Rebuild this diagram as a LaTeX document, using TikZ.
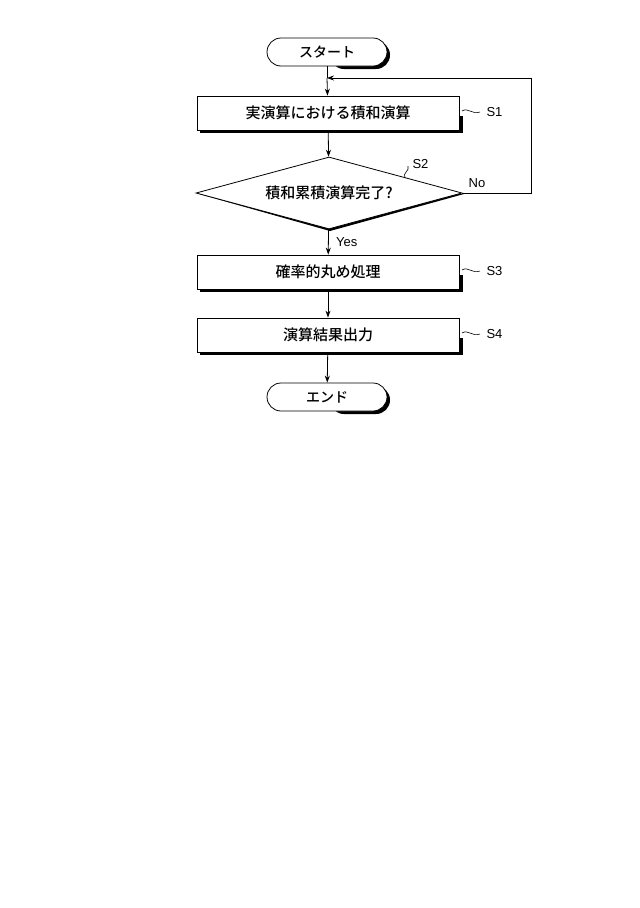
\documentclass[tikz,border=0pt]{standalone}
\usepackage{fontspec}
\setmainfont{Liberation Sans}
\newfontfamily\cjk{Noto Sans CJK JP Medium}
\usetikzlibrary{shapes.geometric,arrows.meta}
\begin{document}
\begin{tikzpicture}[x=1pt,y=-1pt,
 box/.style={draw,fill=white,line width=0.8pt,minimum width=262pt,minimum height=34pt,font=\cjk\fontsize{15}{15}\selectfont},
 term/.style={draw,fill=white,rounded corners=14pt,line width=0.8pt,minimum width=120pt,minimum height=28pt,font=\cjk\fontsize{14}{14}\selectfont},
 dia/.style={draw,fill=white,diamond,aspect=3.6,line width=0.8pt,minimum width=266pt,minimum height=72pt,inner sep=0pt,font=\cjk\fontsize{15}{15}\selectfont},
 arr/.style={-{Stealth[length=7pt,width=5pt]},line width=0.8pt},
 lab/.style={font=\fontsize{13}{13}\selectfont}]
\useasboundingbox (0,0) rectangle (640,908);
\foreach \y in {52,397} \fill[rounded corners=14pt] (330,\y-11) rectangle (390,\y+17);
\node[term] (st) at (327,52) {スタート};
\fill (200,116) rectangle (463,133);
\node[box] (s1) at (328,113) {実演算における積和演算};
\fill (199,194) -- (464,194) -- (330,231) -- cycle;
\node[dia] (s2) at (329,193) {積和累積演算完了?};
\fill (200,275) rectangle (463,292);
\node[box] (s3) at (328,272) {確率的丸め処理};
\fill (200,338) rectangle (463,355);
\node[box] (s4) at (328,335) {演算結果出力};
\node[term] (en) at (327,397) {エンド};
\coordinate (lp) at (327,78);
\draw[line width=0.8pt] (st) -- (lp);
\draw[arr] (lp) -- (s1);
\draw[arr] (s1) -- (s2);
\draw[arr] (s2) -- node[lab,right,xshift=4pt]{Yes} (s3);
\draw[arr] (s3) -- (s4);
\draw[arr] (s4) -- (en);
\draw[arr] (s2.east) -- (531,193) -- (531,78) -- (lp);
\node[lab] (no) at (477,183) {No};
\foreach \n/\y in {S1/113,S3/272,S4/335}{
 \draw[line width=0.6pt] (462,\y-2) .. controls (468,\y-6) and (472,\y+2) .. (480,\y-1);
 \node[lab,anchor=west] at (483,\y-1) {\n};}
\draw[line width=0.6pt] (405,178) .. controls (402,173) and (410,171) .. (408,166);
\node[lab,anchor=west] (s2l) at (409,164) {S2};
\end{tikzpicture}
\end{document}
